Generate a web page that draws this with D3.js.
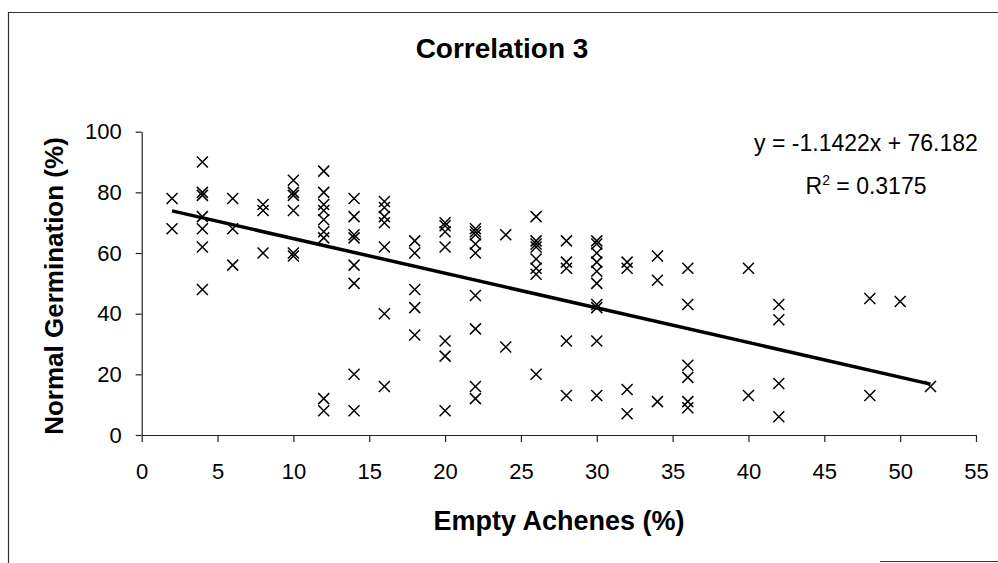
<!DOCTYPE html>
<html>
<head>
  <meta charset="utf-8" />
  <title>Correlation 3</title>
  <script src="https://d3js.org/d3.v7.min.js"></script>
  <style>
    body { margin: 0; background: white; }
    svg text { font-family: "Liberation Sans", Arial, sans-serif; fill: #000; }
    .axis path, .axis line { stroke: #222; stroke-width: 1.2; }
    .axis text { font-size: 22px; }
  </style>
</head>
<body>
  <svg id="chart"></svg>
  <script>
    // data
    var emptyAchenes = [
      2, 2,
      4, 4, 4, 4, 4, 4, 4,
      6, 6, 6,
      8, 8, 8,
      10, 10, 10, 10, 10, 10,
      12, 12, 12, 12, 12, 12, 12, 12, 12,
      14, 14, 14, 14, 14, 14, 14, 14,
      16, 16, 16, 16, 16, 16, 16,
      18, 18, 18, 18, 18,
      20, 20, 20, 20, 20, 20, 20,
      22, 22, 22, 22, 22, 22, 22, 22, 22,
      24, 24,
      26, 26, 26, 26, 26, 26, 26, 26,
      28, 28, 28, 28, 28,
      30, 30, 30, 30, 30, 30, 30, 30, 30, 30,
      32, 32, 32, 32,
      34, 34, 34,
      36, 36, 36, 36, 36, 36,
      40, 40,
      42, 42, 42, 42,
      48, 48,
      50,
      52
    ];
    var normalGermination = [
      78, 68,
      90, 80, 79, 72, 68, 62, 48,
      78, 68, 56,
      76, 74, 60,
      84, 80, 79, 74, 60, 59,
      87, 80, 76, 74, 71, 67, 65, 12, 8,
      78, 72, 66, 65, 56, 50, 20, 8,
      77, 75, 72, 70, 62, 40, 16,
      64, 60, 48, 42, 33,
      70, 69, 67, 62, 31, 26, 8,
      68, 67, 66, 63, 60, 46, 35, 16, 12,
      66, 29,
      72, 64, 63, 62, 58, 55, 53, 20,
      64, 57, 55, 31, 13,
      64, 63, 60, 57, 54, 50, 43, 42, 31, 13,
      57, 55, 15, 7,
      59, 51, 11,
      55, 43, 23, 19, 11, 9,
      55, 13,
      43, 38, 17, 6,
      45, 13,
      44,
      16
    ];
    var xTicks = [0, 5, 10, 15, 20, 25, 30, 35, 40, 45, 50, 55];
    var yTicks = [0, 20, 40, 60, 80, 100];
    var slope = -1.1422;
    var intercept = 76.182;
    var equationLines = ["y = -1.1422x + 76.182", "R2 = 0.3175"];

    var width = 998;
    var height = 563;

    var svg = d3.select("#chart").attr("width", width).attr("height", height);

    // chart frame (scan shows top, left and a bit of bottom)
    svg.append("path")
      .attr("d", "M8.5,563 L8.5,12.5 L998,12.5")
      .attr("fill", "none")
      .attr("stroke", "#333")
      .attr("stroke-width", 1.2);
    svg.append("line")
      .attr("x1", 880).attr("x2", 998)
      .attr("y1", 561.5).attr("y2", 561.5)
      .attr("stroke", "#333");

    var x = d3.scaleLinear().domain([0, 55]).range([141.7, 976]);
    var y = d3.scaleLinear().domain([0, 100]).range([435, 131.7]);

    var xAxis = svg.append("g")
      .attr("class", "axis")
      .attr("transform", "translate(0," + y(0) + ")")
      .call(d3.axisBottom(x).tickValues(xTicks).tickSize(7).tickSizeOuter(0).tickPadding(21));
    xAxis.selectAll("text").attr("dy", "0.71em");

    svg.append("g")
      .attr("class", "axis")
      .attr("transform", "translate(" + x(0) + ",0)")
      .call(d3.axisLeft(y).tickValues(yTicks).tickSize(6).tickSizeOuter(0).tickPadding(14));

    svg.selectAll(".axis .domain").attr("stroke", "#222");

    // x markers
    var points = emptyAchenes.map(function (v, i) {
      return { x: v, y: normalGermination[i] };
    });
    var s = 5.5;
    svg.append("g")
      .selectAll("path")
      .data(points)
      .enter()
      .append("path")
      .attr("d", function (d) {
        var cx = x(d.x), cy = y(d.y);
        return "M" + (cx - s) + "," + (cy - s) + "L" + (cx + s) + "," + (cy + s) +
          "M" + (cx - s) + "," + (cy + s) + "L" + (cx + s) + "," + (cy - s);
      })
      .attr("stroke", "#000")
      .attr("stroke-width", 1.5)
      .attr("fill", "none");

    // linear trendline
    var xmin = d3.min(emptyAchenes), xmax = d3.max(emptyAchenes);
    svg.append("line")
      .attr("x1", x(xmin)).attr("y1", y(slope * xmin + intercept))
      .attr("x2", x(xmax)).attr("y2", y(slope * xmax + intercept))
      .attr("stroke", "#000")
      .attr("stroke-width", 3.5);

    // title
    svg.append("text")
      .attr("x", 502).attr("y", 58)
      .attr("text-anchor", "middle")
      .style("font-size", "28px")
      .style("font-weight", "bold")
      .text("Correlation 3");

    // axis titles
    svg.append("text")
      .attr("x", 559).attr("y", 530)
      .attr("text-anchor", "middle")
      .style("font-size", "27px")
      .style("font-weight", "bold")
      .text("Empty Achenes (%)");

    svg.append("text")
      .attr("transform", "translate(63,286) rotate(-90)")
      .attr("text-anchor", "middle")
      .style("font-size", "26px")
      .style("font-weight", "bold")
      .text("Normal Germination (%)");

    // equation label
    svg.append("text")
      .attr("x", 866).attr("y", 151)
      .attr("text-anchor", "middle")
      .style("font-size", "23px")
      .text(equationLines[0]);

    var r2 = svg.append("text")
      .attr("x", 866).attr("y", 194)
      .attr("text-anchor", "middle")
      .style("font-size", "23px");
    r2.append("tspan").text("R");
    r2.append("tspan").attr("dy", -9).style("font-size", "14px").text("2");
    r2.append("tspan").attr("dy", 9).text(equationLines[1].slice(2));
  </script>
</body>
</html>
